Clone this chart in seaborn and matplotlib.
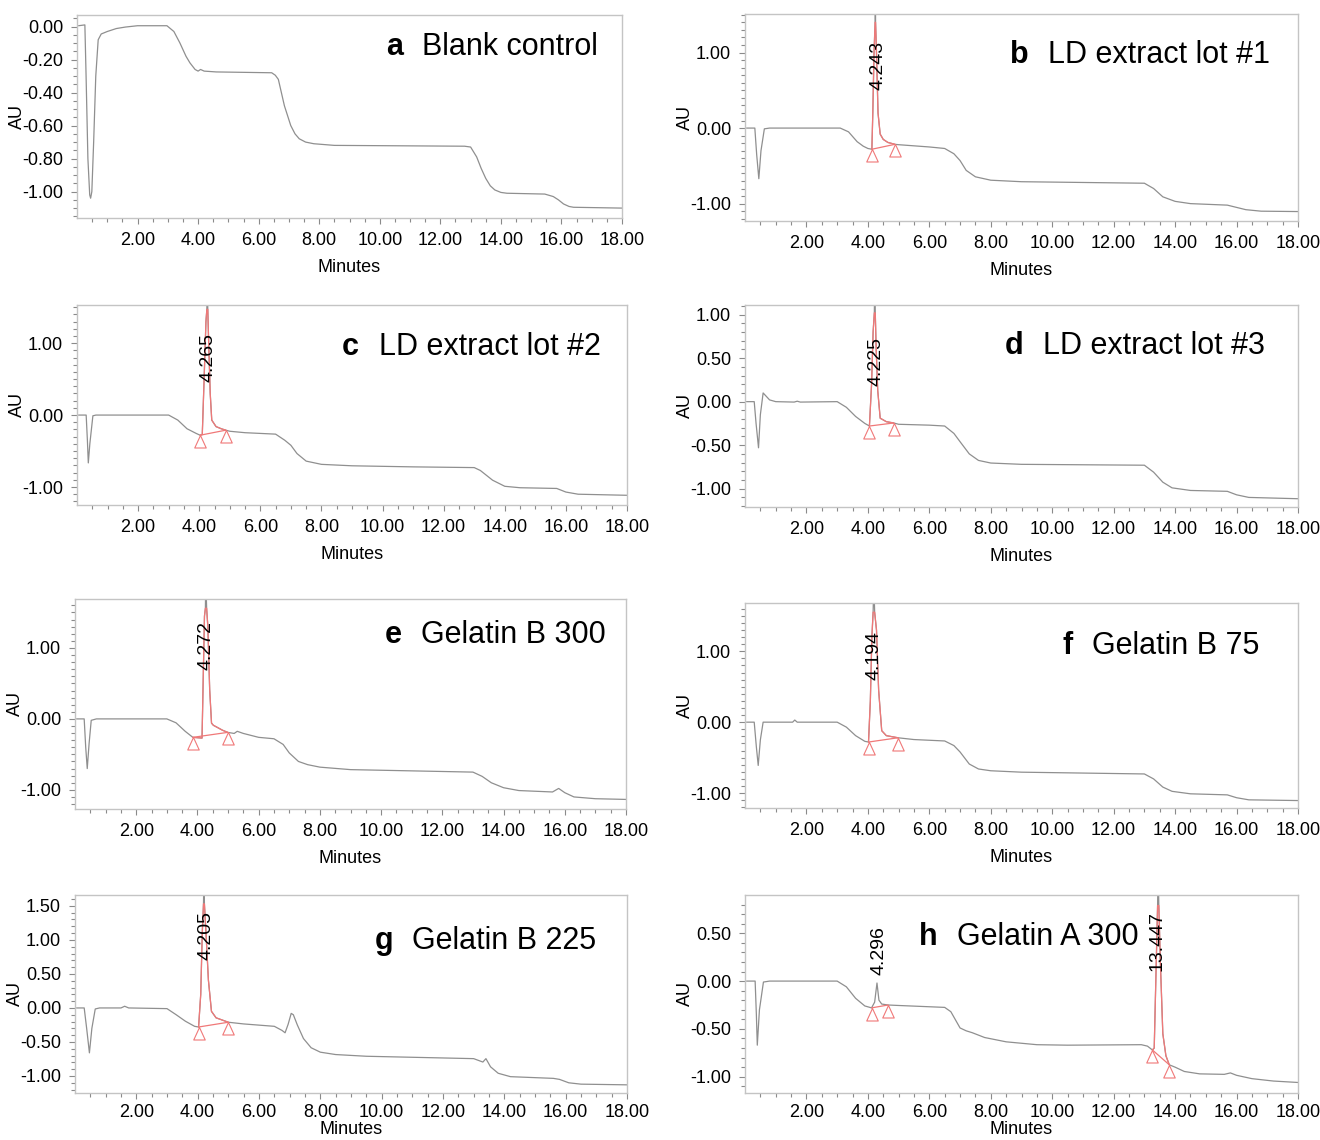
import numpy as np
import matplotlib
matplotlib.use("Agg")
import matplotlib.pyplot as plt
import seaborn as sns

# ---- chromatogram traces (minutes, AU) ----
a_t = [0.05, 0.26, 0.30, 0.36, 0.42, 0.45, 0.49, 0.55, 0.62, 0.70, 0.80, 1.0, 1.3, 1.6, 2.0, 2.97,
       3.2, 3.4, 3.6, 3.73, 3.9, 4.0, 4.08, 4.2, 4.6, 6.43, 6.55, 6.65, 6.85, 7.06, 7.2, 7.34, 7.55, 7.82, 8.5,
       12.8, 13.0, 13.2, 13.35, 13.5, 13.65, 13.8, 14.0, 14.2, 15.45, 15.73, 15.9, 16.07, 16.25, 16.4, 18.0]
a_y = [0.005, 0.01, -0.3, -0.8, -1.02, -1.04, -1.0, -0.7, -0.3, -0.08, -0.045, -0.03, -0.012, -0.003, 0.005, 0.005,
       -0.03, -0.10, -0.18, -0.22, -0.26, -0.27, -0.26, -0.27, -0.275, -0.28, -0.295, -0.32, -0.48, -0.60, -0.65, -0.68,
       -0.70, -0.71, -0.72,
       -0.725, -0.73, -0.79, -0.86, -0.92, -0.965, -0.99, -1.005, -1.01, -1.015, -1.03, -1.05, -1.075, -1.09, -1.095, -1.10]

b_t = [0.05, 0.32, 0.38, 0.45, 0.52, 0.63, 0.8, 1.5, 3.1, 3.37, 3.65, 3.85, 4.0, 4.13,
       4.16, 4.20, 4.235, 4.243, 4.25, 4.28, 4.33, 4.40, 4.5, 4.65, 4.88,
       5.0, 6.0, 6.5, 6.8, 7.0, 7.2, 7.5, 8.0, 9.0,
       13.0, 13.3, 13.6, 14.0, 14.5, 15.7, 15.9, 16.3, 16.8, 18.0]
b_y = [0.0, 0.0, -0.35, -0.67, -0.30, -0.01, 0.0, 0.0, 0.0, -0.05, -0.18, -0.24, -0.27, -0.28,
       0.2, 1.0, 1.40, 2.0, 1.40, 1.0, 0.2, -0.08, -0.15, -0.19, -0.215,
       -0.22, -0.25, -0.27, -0.34, -0.43, -0.56, -0.645, -0.69, -0.71,
       -0.73, -0.80, -0.91, -0.97, -1.0, -1.02, -1.04, -1.08, -1.10, -1.105]

c_t = [0.05, 0.30, 0.34, 0.37, 0.42, 0.52, 0.62, 1.5,
       3.0, 3.3, 3.6, 3.9, 4.03, 4.10, 4.16, 4.22, 4.25, 4.265, 4.28, 4.31, 4.36, 4.41, 4.55, 4.72, 4.87,
       5.0, 5.5, 6.5, 6.8, 7.0, 7.2, 7.5, 8.0, 9.0, 11.0,
       13.0, 13.2, 13.6, 14.0, 14.5, 15.7, 16.0, 16.4, 18.0]
c_y = [0.0, 0.0, -0.35, -0.665, -0.40, -0.01, 0.0, 0.0,
       0.0, -0.07, -0.19, -0.255, -0.28, -0.27, 0.5, 1.3, 1.47, 2.0, 1.47, 1.0, 0.3, -0.07, -0.16, -0.19, -0.21,
       -0.225, -0.245, -0.265, -0.35, -0.42, -0.535, -0.64, -0.685, -0.705, -0.72,
       -0.73, -0.77, -0.905, -0.99, -1.01, -1.02, -1.07, -1.10, -1.115]

d_t = [0.05, 0.30, 0.36, 0.44, 0.50, 0.59, 0.8, 1.0, 1.6, 1.7, 1.8,
       3.0, 3.3, 3.6, 3.9, 4.05, 4.12, 4.17, 4.21, 4.225, 4.24, 4.27, 4.32, 4.40, 4.6, 4.84,
       5.0, 6.0, 6.5, 6.8, 7.0, 7.3, 7.6, 8.0, 9.0,
       13.0, 13.3, 13.6, 13.9, 14.5, 15.7, 16.0, 16.4, 18.0]
d_y = [0.0, 0.0, -0.25, -0.53, -0.15, 0.10, 0.02, 0.0, -0.005, 0.005, -0.005,
       0.0, -0.065, -0.17, -0.25, -0.28, 0.2, 0.8, 1.02, 1.5, 1.02, 0.6, 0.13, -0.19, -0.23, -0.245,
       -0.26, -0.27, -0.28, -0.365, -0.46, -0.60, -0.675, -0.705, -0.72,
       -0.73, -0.81, -0.925, -0.99, -1.02, -1.03, -1.07, -1.10, -1.115]

e_t = [0.05, 0.30, 0.35, 0.40, 0.46, 0.53, 0.7,
       3.0, 3.3, 3.6, 3.85, 4.15, 4.19, 4.23, 4.26, 4.272, 4.30, 4.34, 4.40, 4.46, 4.52, 4.65, 4.82, 4.99,
       5.2, 5.3, 5.5, 6.0, 6.5, 6.8, 7.0, 7.3, 7.6, 8.0, 9.0,
       13.0, 13.3, 13.6, 14.0, 14.5, 15.6, 15.8, 16.0, 16.3, 17.0, 18.0]
e_y = [0.0, 0.0, -0.40, -0.70, -0.35, -0.02, 0.0,
       0.0, -0.055, -0.175, -0.26, -0.27, 0.6, 1.45, 1.56, 2.0, 1.56, 1.3, 0.41, -0.06, -0.09, -0.12, -0.16, -0.19,
       -0.205, -0.175, -0.205, -0.26, -0.28, -0.36, -0.48, -0.60, -0.645, -0.68, -0.715,
       -0.75, -0.81, -0.90, -0.97, -1.01, -1.03, -0.98, -1.04, -1.10, -1.125, -1.135]

f_t = [0.05, 0.30, 0.37, 0.43, 0.50, 0.59, 0.8, 1.55, 1.62, 1.7,
       3.0, 3.3, 3.6, 3.9, 4.02, 4.08, 4.13, 4.17, 4.194, 4.22, 4.28, 4.35, 4.45, 4.6, 4.98,
       5.5, 6.5, 6.8, 7.0, 7.3, 7.6, 8.0, 9.0,
       13.0, 13.3, 13.6, 13.9, 14.5, 15.7, 16.0, 16.4, 18.0]
f_y = [0.0, 0.0, -0.35, -0.61, -0.25, 0.0, 0.0, 0.0, 0.03, 0.0,
       0.0, -0.07, -0.19, -0.27, -0.28, 0.3, 1.2, 1.55, 2.0, 1.55, 1.3, 0.45, -0.12, -0.19, -0.22,
       -0.245, -0.265, -0.33, -0.42, -0.59, -0.66, -0.685, -0.705,
       -0.73, -0.80, -0.915, -0.975, -1.01, -1.025, -1.065, -1.095, -1.105]

g_t = [0.05, 0.30, 0.38, 0.47, 0.55, 0.66, 0.8, 1.5, 1.62, 1.75,
       3.0, 3.3, 3.6, 3.9, 4.03, 4.10, 4.15, 4.19, 4.205, 4.22, 4.26, 4.35, 4.45, 4.6, 5.0,
       5.5, 6.5, 6.75, 6.85, 6.95, 7.05, 7.12, 7.25, 7.45, 7.7, 8.0, 8.5, 9.5,
       13.0, 13.3, 13.4, 13.55, 13.8, 14.2, 15.6, 15.8, 16.1, 16.5, 18.0]
g_y = [0.0, 0.0, -0.30, -0.66, -0.30, -0.015, 0.0, 0.0, 0.025, 0.0,
       -0.01, -0.10, -0.195, -0.27, -0.28, 0.2, 1.1, 1.53, 2.0, 1.53, 1.2, 0.41, -0.05, -0.145, -0.21,
       -0.235, -0.27, -0.33, -0.365, -0.24, -0.08, -0.10, -0.25, -0.45, -0.585, -0.65, -0.685, -0.71,
       -0.745, -0.795, -0.745, -0.865, -0.96, -1.01, -1.035, -1.05, -1.10, -1.12, -1.13]

h_t = [0.05, 0.33, 0.37, 0.40, 0.47, 0.60, 0.8,
       3.0, 3.3, 3.6, 3.9, 4.12, 4.22, 4.296, 4.36, 4.45, 4.66, 5.0,
       6.5, 6.7, 7.0, 7.2, 7.4, 7.8, 8.5, 9.5, 10.5, 12.9, 13.1,
       13.26, 13.32, 13.43, 13.447, 13.47, 13.52, 13.6, 13.7, 13.81,
       14.0, 14.3, 14.8, 15.6, 15.8, 16.0, 16.5, 17.2, 18.0]
h_y = [0.0, 0.0, -0.35, -0.67, -0.30, -0.01, 0.0,
       0.0, -0.06, -0.18, -0.26, -0.28, -0.22, -0.02, -0.20, -0.24, -0.25, -0.255,
       -0.275, -0.32, -0.49, -0.52, -0.54, -0.59, -0.635, -0.665, -0.67, -0.665, -0.68,
       -0.72, -0.70, 0.79, 1.2, 0.79, 0.2, -0.55, -0.78, -0.875,
       -0.90, -0.945, -0.97, -0.975, -0.96, -0.985, -1.02, -1.045, -1.06]

# ---- integrated peaks (red outline) ----
b_pk_t = [4.13, 4.16, 4.20, 4.235, 4.25, 4.28, 4.33, 4.40, 4.5, 4.65, 4.88]
b_pk_y = [-0.28, 0.2, 1.0, 1.40, 1.40, 1.0, 0.2, -0.08, -0.15, -0.19, -0.215]
c_pk_t = [4.03, 4.10, 4.16, 4.22, 4.25, 4.28, 4.31, 4.36, 4.41, 4.55, 4.72, 4.87]
c_pk_y = [-0.28, -0.27, 0.5, 1.3, 1.47, 1.47, 1.0, 0.3, -0.07, -0.16, -0.19, -0.21]
d_pk_t = [4.05, 4.12, 4.17, 4.21, 4.24, 4.27, 4.32, 4.40, 4.6, 4.84]
d_pk_y = [-0.28, 0.2, 0.8, 1.02, 1.02, 0.6, 0.13, -0.19, -0.23, -0.245]
e_pk_t = [3.85, 4.15, 4.19, 4.23, 4.26, 4.30, 4.34, 4.40, 4.46, 4.52, 4.65, 4.82, 4.99]
e_pk_y = [-0.26, -0.27, 0.6, 1.45, 1.56, 1.56, 1.3, 0.41, -0.06, -0.09, -0.12, -0.16, -0.19]
f_pk_t = [4.02, 4.08, 4.13, 4.17, 4.22, 4.28, 4.35, 4.45, 4.6, 4.98]
f_pk_y = [-0.28, 0.3, 1.2, 1.55, 1.55, 1.3, 0.45, -0.12, -0.19, -0.22]
g_pk_t = [4.03, 4.10, 4.15, 4.19, 4.22, 4.26, 4.35, 4.45, 4.6, 5.0]
g_pk_y = [-0.28, 0.2, 1.1, 1.53, 1.53, 1.2, 0.41, -0.05, -0.145, -0.21]
h_pk_t = [13.26, 13.32, 13.43, 13.47, 13.52, 13.6, 13.7, 13.81]
h_pk_y = [-0.72, -0.70, 0.79, 0.79, 0.2, -0.55, -0.78, -0.875]

# ---- baseline start / end points (triangles) ----
b_bl_t, b_bl_y = [4.13, 4.88], [-0.28, -0.215]
c_bl_t, c_bl_y = [4.03, 4.87], [-0.28, -0.21]
d_bl_t, d_bl_y = [4.05, 4.84], [-0.28, -0.245]
e_bl_t, e_bl_y = [3.85, 4.99], [-0.26, -0.19]
f_bl_t, f_bl_y = [4.02, 4.98], [-0.28, -0.22]
g_bl_t, g_bl_y = [4.03, 5.0], [-0.28, -0.21]
h_bl1_t, h_bl1_y = [4.12, 4.66], [-0.28, -0.25]
h_bl2_t, h_bl2_y = [13.26, 13.81], [-0.72, -0.875]

# ---- retention time labels ----
rt_b = ["4.243"]
rt_c = ["4.265"]
rt_d = ["4.225"]
rt_e = ["4.272"]
rt_f = ["4.194"]
rt_g = ["4.205"]
rt_h = ["4.296", "13.447"]

W, H = 1320, 1140
GRAY = "#8f8f8f"
RED = "#f07878"

sns.set_style("ticks")
plt.rcParams["font.family"] = ["Liberation Sans", "DejaVu Sans"]
plt.rcParams["text.color"] = "black"
plt.rcParams["axes.labelcolor"] = "black"


def rect(l, r, t, b):
    return [l / W, 1 - b / H, (r - l) / W, (b - t) / H]


panels = [
    dict(t=a_t, y=a_y, pk=[], bl=[], rt=[], rt_pos=[],
         ylim=(-1.16, 0.07), yt=[-1.0, -0.8, -0.6, -0.4, -0.2, 0.0], ym=0.05,
         letter="a", name="Blank control", nx=11.4, ny=0.84, box=(77, 622, 15, 218)),
    dict(t=b_t, y=b_y, pk=[(b_pk_t, b_pk_y)], bl=[(b_bl_t, b_bl_y)], rt=rt_b, rt_pos=[(4.33, 0.50)],
         ylim=(-1.23, 1.51), yt=[-1.0, 0.0, 1.0], ym=0.1,
         letter="b", name="LD extract lot #1", nx=9.85, ny=0.80, box=(745, 1298, 14, 221)),
    dict(t=c_t, y=c_y, pk=[(c_pk_t, c_pk_y)], bl=[(c_bl_t, c_bl_y)], rt=rt_c, rt_pos=[(4.28, 0.46)],
         ylim=(-1.25, 1.53), yt=[-1.0, 0.0, 1.0], ym=0.1,
         letter="c", name="LD extract lot #2", nx=9.87, ny=0.79, box=(77, 627, 305, 505)),
    dict(t=d_t, y=d_y, pk=[(d_pk_t, d_pk_y)], bl=[(d_bl_t, d_bl_y)], rt=rt_d, rt_pos=[(4.26, 0.18)],
         ylim=(-1.21, 1.11), yt=[-1.0, -0.5, 0.0, 0.5, 1.0], ym=0.1,
         letter="d", name="LD extract lot #3", nx=9.7, ny=0.795, box=(745, 1298, 305, 507)),
    dict(t=e_t, y=e_y, pk=[(e_pk_t, e_pk_y)], bl=[(e_bl_t, e_bl_y)], rt=rt_e, rt_pos=[(4.27, 0.69)],
         ylim=(-1.27, 1.69), yt=[-1.0, 0.0, 1.0], ym=0.1,
         letter="e", name="Gelatin B 300", nx=11.3, ny=0.83, box=(75, 626, 599, 809)),
    dict(t=f_t, y=f_y, pk=[(f_pk_t, f_pk_y)], bl=[(f_bl_t, f_bl_y)], rt=rt_f, rt_pos=[(4.20, 0.59)],
         ylim=(-1.21, 1.68), yt=[-1.0, 0.0, 1.0], ym=0.1,
         letter="f", name="Gelatin B 75", nx=11.3, ny=0.79, box=(745, 1298, 603, 808)),
    dict(t=g_t, y=g_y, pk=[(g_pk_t, g_pk_y)], bl=[(g_bl_t, g_bl_y)], rt=rt_g, rt_pos=[(4.28, 0.70)],
         ylim=(-1.25, 1.66), yt=[-1.0, -0.5, 0.0, 0.5, 1.0, 1.5], ym=0.1,
         letter="g", name="Gelatin B 225", nx=11.0, ny=0.77, box=(75, 627, 895, 1093)),
    dict(t=h_t, y=h_y, pk=[(h_pk_t, h_pk_y)], bl=[(h_bl1_t, h_bl1_y), (h_bl2_t, h_bl2_y)], rt=rt_h,
         rt_pos=[(4.35, 0.06), (13.42, 0.11)],
         ylim=(-1.17, 0.90), yt=[-1.0, -0.5, 0.0, 0.5], ym=0.1,
         letter="h", name="Gelatin A 300", nx=6.9, ny=0.79, box=(745, 1298, 895, 1093)),
]

# triangle with its apex on the data point
tri = [(0, 0), (-0.46, -1), (0.46, -1), (0, 0)]

fig = plt.figure(figsize=(W / 100, H / 100), dpi=100)

for p in panels:
    l, r, t, b = p["box"]
    bottom_row = b > 1000
    ax = fig.add_axes(rect(l, r, t, b))
    sns.lineplot(x=p["t"], y=p["y"], ax=ax, color=GRAY, linewidth=0.9, sort=False, estimator=None)
    for pt, py in p["pk"]:
        sns.lineplot(x=pt, y=py, ax=ax, color=RED, linewidth=0.9, sort=False, estimator=None)
    for bt, by in p["bl"]:
        ax.plot(bt, by, color=RED, linewidth=0.9)
        ax.plot(bt, by, linestyle="none", marker=tri, markersize=18,
                markerfacecolor="none", markeredgecolor=RED, markeredgewidth=0.8)
    for txt, (tx, ty) in zip(p["rt"], p["rt_pos"]):
        ax.text(tx, ty, txt, rotation=90, ha="center", va="bottom", fontsize=14, color="black")

    ax.set_xlim(0, 18)
    ax.set_ylim(*p["ylim"])
    ax.set_xticks(np.arange(2, 18.01, 2))
    ax.set_xticklabels(["%.2f" % v for v in np.arange(2, 18.01, 2)], fontsize=13)
    ax.set_xticks(np.arange(0.5, 18, 0.5), minor=True)
    ax.set_yticks(p["yt"])
    ax.set_yticklabels(["%.2f" % v for v in p["yt"]], fontsize=13)
    lo, hi = p["ylim"]
    step = p["ym"]
    ax.set_yticks(np.arange(np.ceil(lo / step) * step, hi, step), minor=True)
    ax.tick_params(which="both", bottom=True, left=True, top=False, right=False,
                   direction="out", length=4, width=0.8, color="#8a8a8a", labelcolor="black")
    ax.tick_params(which="minor", length=3)
    ax.tick_params(axis="x", which="major", pad=4 if bottom_row else 6)
    ax.tick_params(axis="y", which="major", pad=6)
    for s in ax.spines.values():
        s.set_visible(True)
        s.set_color("#c4c4c4")
        s.set_linewidth(1.0)
    ax.set_xlabel("Minutes", fontsize=13, labelpad=0 if bottom_row else 7)
    ax.set_ylabel("AU", fontsize=13)
    ax.yaxis.set_label_coords(-51 / (r - l), 0.5)

    ax.annotate(p["name"], xy=(p["nx"], p["ny"]), xycoords=("data", "axes fraction"),
                ha="left", va="center", fontsize=22, color="black")
    ax.annotate(p["letter"], xy=(p["nx"], p["ny"]), xycoords=("data", "axes fraction"),
                xytext=(-14, 0), textcoords="offset points",
                ha="right", va="center", fontsize=22, fontweight="bold", color="black")

fig.savefig("out.png", dpi=100)
